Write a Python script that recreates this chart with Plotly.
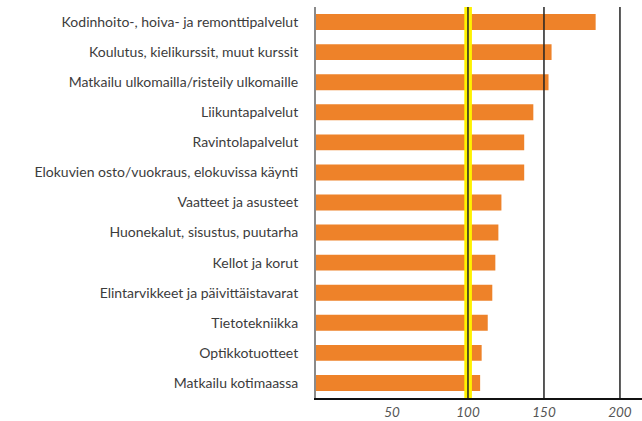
import plotly.graph_objects as go

# Category labels, top to bottom
categories = [
    "Kodinhoito-, hoiva- ja remonttipalvelut",
    "Koulutus, kielikurssit, muut kurssit",
    "Matkailu ulkomailla/risteily ulkomaille",
    "Liikuntapalvelut",
    "Ravintolapalvelut",
    "Elokuvien osto/vuokraus, elokuvissa käynti",
    "Vaatteet ja asusteet",
    "Huonekalut, sisustus, puutarha",
    "Kellot ja korut",
    "Elintarvikkeet ja päivittäistavarat",
    "Tietotekniikka",
    "Optikkotuotteet",
    "Matkailu kotimaassa",
]

# Index values per category
values = [184, 155, 153, 143, 137, 137, 122, 120, 118, 116, 113, 109, 108]

# Axis ticks
tick_values = [50, 100, 150, 200]
tick_labels = ["50", "100", "150", "200"]
reference_value = 100
grid_values = [150, 200]

fig = go.Figure(
    go.Bar(
        x=values,
        y=categories,
        orientation="h",
        marker=dict(color="#EE8229", line=dict(width=0)),
        width=0.53,
    )
)

shapes = [
    # highlighted reference band at 100
    dict(type="rect", xref="x", yref="paper", x0=reference_value - 2.4,
         x1=reference_value + 2.6, y0=0, y1=1.0, fillcolor="#FFF200",
         line=dict(width=0), layer="above"),
    dict(type="line", xref="x", yref="paper", x0=reference_value,
         x1=reference_value, y0=0, y1=1.0,
         line=dict(color="#222222", width=1.5), layer="above"),
]
for g in grid_values:
    shapes.append(dict(type="line", xref="x", yref="paper", x0=g, x1=g,
                       y0=0, y1=1.0, line=dict(color="#222222", width=1.5),
                       layer="above"))

fig.update_layout(
    width=642,
    height=421,
    margin=dict(l=316, r=0, t=7, b=23),
    paper_bgcolor="white",
    plot_bgcolor="white",
    showlegend=False,
    shapes=shapes,
    bargap=0.47,
    xaxis=dict(
        range=[0, 214.5],
        tickvals=tick_values,
        ticktext=tick_labels,
        showgrid=False,
        zeroline=False,
        showline=True,
        linecolor="#111111",
        linewidth=2,
        ticks="",
        ticklabelstandoff=1,
        automargin=False,
        tickfont=dict(family="Lato", size=13.5, color="#555555", style="italic"),
        fixedrange=True,
    ),
    yaxis=dict(
        autorange="reversed",
        showgrid=False,
        zeroline=False,
        showline=True,
        linecolor="#8a8a8a",
        linewidth=2,
        ticks="",
        ticklabelstandoff=13,
        automargin=False,
        tickfont=dict(family="Lato", size=14, color="#3c3c3c"),
        fixedrange=True,
    ),
)

fig.write_html("out.html")
